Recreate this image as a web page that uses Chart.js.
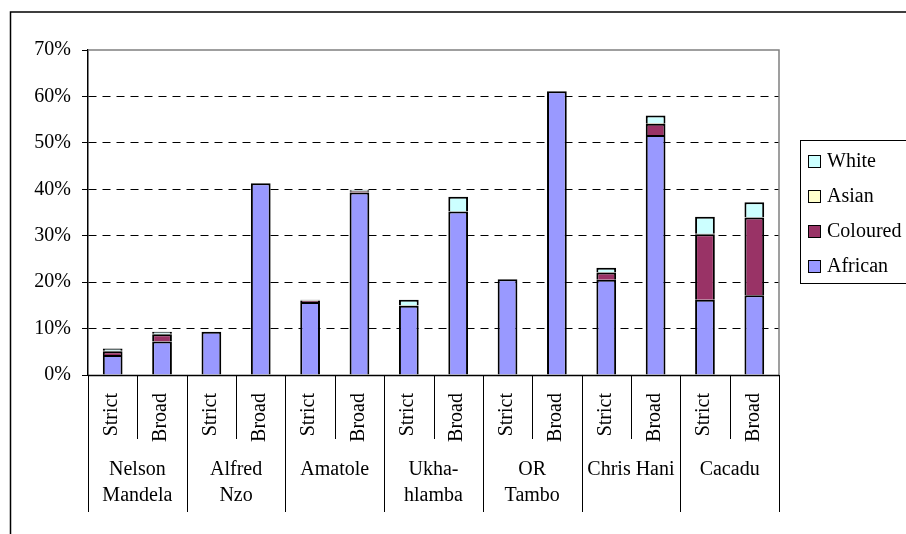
<!DOCTYPE html>
<html>
<head>
<meta charset="utf-8">
<script src="https://cdn.jsdelivr.net/npm/chart.js@4.4.1/dist/chart.umd.min.js"></script>
<style>
  body { margin: 0; background: #fff; }
  #wrap { width: 906px; height: 534px; }
</style>
</head>
<body>
<div id="wrap"><canvas id="chart" width="906" height="534"></canvas></div>
<script>
// one bar per municipality & definition (strict / broad)
const barLabels = ['Strict', 'Broad', 'Strict', 'Broad', 'Strict', 'Broad', 'Strict', 'Broad',
                   'Strict', 'Broad', 'Strict', 'Broad', 'Strict', 'Broad']
const groupLabels = [['Nelson', 'Mandela'], ['Alfred', 'Nzo'], ['Amatole'], ['Ukha-', 'hlamba'],
                     ['OR', 'Tambo'], ['Chris Hani'], ['Cacadu']]

// unemployment rate share by population group, in %
const african  = [4.3, 7.2, 9.3, 41.3, 15.7, 39.3, 14.9, 35.2, 20.6, 61.1, 20.5, 51.7, 16.2, 17.2]
const coloured = [0.8, 1.6, 0, 0, 0.3, 0.3, 0, 0, 0, 0, 1.6, 2.4, 14.1, 16.7]
const asian    = [0.1, 0.1, 0, 0, 0.1, 0.1, 0.1, 0, 0, 0, 0.1, 0.2, 0.1, 0.1]
const white    = [0.5, 0.4, 0, 0, 0.1, 0.2, 1.2, 3.2, 0, 0, 0.9, 1.6, 3.7, 3.2]

const yTicks = [0, 10, 20, 30, 40, 50, 60, 70]

const serif = 'Liberation Serif'

const decorPlugin = {
    id: 'decor',
    afterDraw(chart) {
        const ctx = chart.ctx
        const area = chart.chartArea
        const x = chart.scales.x
        const step = x.width / barLabels.length
        ctx.save()

        // outer frame
        ctx.strokeStyle = '#000'
        ctx.lineWidth = 1.5
        ctx.beginPath()
        ctx.moveTo(10.5, 534)
        ctx.lineTo(10.5, 12)
        ctx.lineTo(906, 12)
        ctx.stroke()

        // plot area top / right border
        ctx.strokeStyle = '#808080'
        ctx.lineWidth = 1.5
        ctx.beginPath()
        ctx.moveTo(area.left, area.top)
        ctx.lineTo(area.right, area.top)
        ctx.lineTo(area.right, area.bottom)
        ctx.stroke()

        // x axis line
        ctx.strokeStyle = '#000'
        ctx.lineWidth = 1.5
        ctx.beginPath()
        ctx.moveTo(area.left, area.bottom + 0.5)
        ctx.lineTo(area.right, area.bottom + 0.5)
        ctx.stroke()

        // separators
        ctx.lineWidth = 1
        for (let i = 0; i <= barLabels.length; i++) {
            let px = Math.round(x.getPixelForValue(i) - step / 2) + 0.5
            if (i == barLabels.length) px = Math.round(x.getPixelForValue(i - 1) + step / 2) + 0.5
            let len = (i % 2 == 0) ? 137 : 64
            ctx.beginPath()
            ctx.moveTo(px, area.bottom)
            ctx.lineTo(px, area.bottom + len)
            ctx.stroke()
        }

        // rotated bar labels
        ctx.fillStyle = '#000'
        ctx.font = '20px "' + serif + '"'
        barLabels.forEach((label, i) => {
            let px = x.getPixelForValue(i)
            ctx.save()
            ctx.translate(px - 1, area.bottom + 18)
            ctx.rotate(-Math.PI / 2)
            ctx.textAlign = 'right'
            ctx.textBaseline = 'middle'
            ctx.fillText(label, 0, 0)
            ctx.restore()
        })

        // group labels
        ctx.textAlign = 'center'
        ctx.textBaseline = 'middle'
        groupLabels.forEach((lines, g) => {
            let cx = (x.getPixelForValue(g * 2) + x.getPixelForValue(g * 2 + 1)) / 2
            lines.forEach((line, j) => {
                ctx.fillText(line, cx, area.bottom + 95 + j * 26)
            })
        })

        // legend
        ctx.strokeStyle = '#000'
        ctx.lineWidth = 1
        ctx.strokeRect(800.5, 140.5, 130, 143)
        ctx.textAlign = 'left'
        let sets = chart.data.datasets.slice().reverse()
        sets.forEach((ds, i) => {
            let cy = 161 + i * 35
            ctx.fillStyle = ds.backgroundColor
            ctx.fillRect(808, cy - 6, 13, 13)
            ctx.strokeRect(808.5, cy - 5.5, 12, 12)
            ctx.fillStyle = '#000'
            ctx.fillText(ds.label, 827, cy + 1)
        })

        ctx.restore()
    }
}

const datasetStyle = {
    borderColor: '#000',
    borderWidth: 2,
    borderSkipped: 'start',
    barPercentage: 0.4,
    categoryPercentage: 1
}

new Chart(document.getElementById('chart'), {
    type: 'bar',
    data: {
        labels: barLabels,
        datasets: [
            { label: 'African', data: african, backgroundColor: '#9999FF', ...datasetStyle },
            { label: 'Coloured', data: coloured, backgroundColor: '#993366', ...datasetStyle },
            { label: 'Asian', data: asian, backgroundColor: '#FFFFCC', ...datasetStyle },
            { label: 'White', data: white, backgroundColor: '#CCFFFF', ...datasetStyle }
        ]
    },
    options: {
        responsive: false,
        animation: false,
        layout: { padding: { left: 11, top: 50, right: 127, bottom: 159 } },
        plugins: {
            legend: { display: false },
            tooltip: { enabled: false }
        },
        scales: {
            x: {
                stacked: true,
                display: false
            },
            y: {
                stacked: true,
                min: 0,
                max: 70,
                afterBuildTicks: (scale) => {
                    scale.ticks = yTicks.map(v => ({ value: v }))
                },
                afterFit: (scale) => {
                    scale.width = 77
                },
                ticks: {
                    color: '#000',
                    padding: 11,
                    font: { family: serif, size: 20 },
                    callback: (v) => v + '%'
                },
                grid: {
                    color: (c) => (c.tick && (c.tick.value == 0 || c.tick.value == 70)) ? 'rgba(0,0,0,0)' : '#000',
                    lineWidth: 1,
                    tickLength: 6,
                    tickColor: '#000'
                },
                border: {
                    display: true,
                    color: '#000',
                    width: 1.5,
                    dash: [8, 6]
                }
            }
        }
    },
    plugins: [decorPlugin]
})
</script>
</body>
</html>
